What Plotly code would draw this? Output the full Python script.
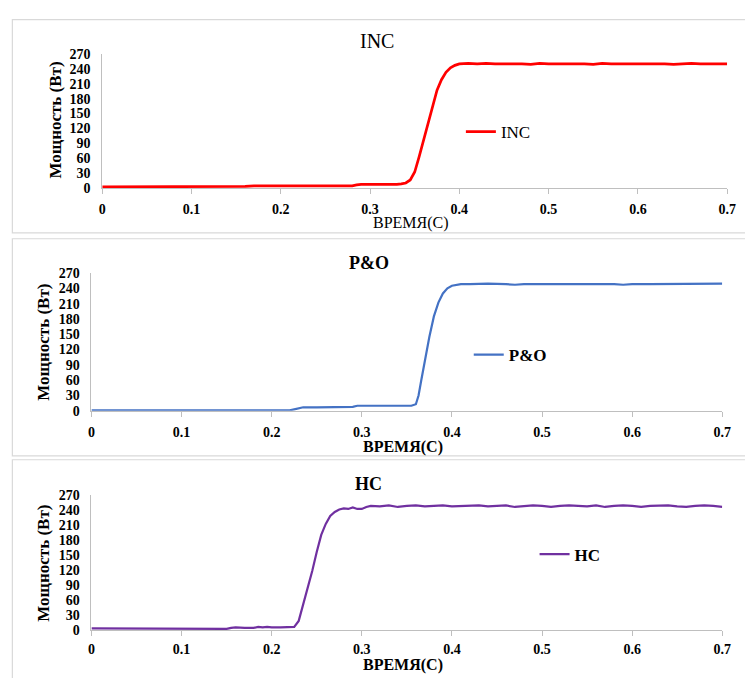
import plotly.graph_objects as go

W, H = 745, 678

# ---------------- data ----------------
x_ticks = [0, 0.1, 0.2, 0.3, 0.4, 0.5, 0.6, 0.7]
x_tick_labels = ["0", "0.1", "0.2", "0.3", "0.4", "0.5", "0.6", "0.7"]
y_ticks = [0, 30, 60, 90, 120, 150, 180, 210, 240, 270]
y_tick_labels = [str(v) for v in y_ticks]

inc_t = [0, 0.05, 0.10, 0.15, 0.16, 0.17, 0.20, 0.25, 0.28, 0.285, 0.29, 0.30, 0.31, 0.32, 0.33,
         0.335, 0.34, 0.345, 0.35, 0.355, 0.36, 0.365, 0.37, 0.375, 0.38, 0.385, 0.39, 0.395,
         0.40, 0.405, 0.41, 0.42, 0.43, 0.44, 0.45, 0.46, 0.47, 0.48, 0.49, 0.50, 0.51, 0.52,
         0.53, 0.54, 0.55, 0.56, 0.57, 0.58, 0.59, 0.60, 0.61, 0.62, 0.63, 0.64, 0.65, 0.66,
         0.67, 0.68, 0.69, 0.70]
inc_p = [2, 2, 2, 2, 3, 4, 4, 4, 4, 6, 7, 7, 7, 6, 7,
         8, 10, 16, 32, 63, 96, 128, 165, 197, 218, 233, 242, 247,
         250, 251, 251, 250, 251, 250, 250, 251, 250, 249, 251, 250, 250, 251,
         250, 250, 249, 251, 250, 250, 251, 250, 250, 251, 250, 249, 250, 251,
         250, 250, 251, 250]

po_t = [0, 0.05, 0.10, 0.15, 0.20, 0.22, 0.225, 0.23, 0.235, 0.25, 0.28, 0.29, 0.295, 0.30,
        0.33, 0.355, 0.36, 0.363, 0.366, 0.37, 0.375, 0.38, 0.385, 0.39, 0.395, 0.40, 0.405,
        0.41, 0.42, 0.44, 0.46, 0.47, 0.48, 0.50, 0.52, 0.54, 0.56, 0.58, 0.59, 0.60, 0.62,
        0.64, 0.66, 0.68, 0.70]
po_p = [1, 1, 1, 1, 1, 1, 3, 5, 7, 7, 7, 8, 10, 10,
        10, 10, 13, 30, 60, 100, 145, 185, 212, 230, 240, 245, 247,
        248, 248, 249, 248, 247, 248, 248, 249, 248, 248, 248, 247, 248, 248,
        248, 249, 249, 249]

hc_t = [0, 0.01, 0.02, 0.05, 0.10, 0.11, 0.15, 0.155, 0.16, 0.17, 0.18, 0.185, 0.19, 0.195,
        0.20, 0.21, 0.22, 0.225, 0.23, 0.235, 0.24, 0.245, 0.25, 0.255, 0.26, 0.265, 0.27,
        0.275, 0.28, 0.285, 0.29, 0.295, 0.30, 0.305, 0.31, 0.32, 0.33, 0.34, 0.35, 0.36,
        0.37, 0.38, 0.39, 0.40, 0.41, 0.42, 0.43, 0.44, 0.45, 0.46, 0.47, 0.48, 0.49, 0.50,
        0.51, 0.52, 0.53, 0.54, 0.55, 0.56, 0.57, 0.58, 0.59, 0.60, 0.61, 0.62, 0.63, 0.64,
        0.65, 0.66, 0.67, 0.68, 0.69, 0.70]
hc_p = [3, 3, 2, 2, 2, 3, 2, 4, 5, 4, 4, 6, 5, 6,
        5, 5, 5, 6, 18, 50, 82, 118, 156, 190, 212, 228, 236,
        241, 243, 242, 245, 242, 242, 246, 248, 247, 249, 246, 248, 249,
        247, 248, 249, 247, 248, 248, 249, 247, 248, 249, 246, 248, 249, 248,
        246, 248, 249, 248, 247, 249, 246, 248, 249, 248, 246, 248, 248, 249,
        247, 246, 248, 249, 248, 246]

panel_titles = ["INC", "P&O", "HC"]
y_title = "Мощность (Вт)"
x_title = "ВРЕМЯ(С)"

# ---------------- layout helpers (positions given in page pixels) ----------------
def px(xp):
    return xp / W

def py(yp):
    return 1 - yp / H

SERIF = "Liberation Serif, Times New Roman, Tinos, DejaVu Serif, serif"
AXIS_GRAY = "#bfbfbf"

panels = [
    dict(t=inc_t, p=inc_p, color="#FF0000", width=2.7,
         xl=100, xr=736, yt=48, yb=185,
         title_xy=(380, 35), title_bold=False, title_size=20,
         ytitle_xy=(52, 116), xtitle_xy=(414, 221), xtitle_bold=False,
         legend_xy=(465, 128), legend_bold=False, standoff=3,
         box=(8.5, 13, 760, 231)),
    dict(t=po_t, p=po_p, color="#4472C4", width=2.2,
         xl=89, xr=731, yt=272, yb=413,
         title_xy=(371, 262), title_bold=True, title_size=18,
         ytitle_xy=(40, 343), xtitle_xy=(406, 450), xtitle_bold=True,
         legend_xy=(473, 356), legend_bold=True, standoff=3,
         box=(8.5, 237, 760, 459)),
    dict(t=hc_t, p=hc_p, color="#7030A0", width=2.2,
         xl=89, xr=731, yt=499, yb=637,
         title_xy=(371, 488), title_bold=True, title_size=18,
         ytitle_xy=(40, 569), xtitle_xy=(406, 673), xtitle_bold=True,
         legend_xy=(540, 560), legend_bold=True, standoff=1,
         box=(8.5, 463, 760, 700)),
]

fig = go.Figure()
layout = dict(width=W, height=H, margin=dict(l=0, r=0, t=0, b=0),
              paper_bgcolor="white", plot_bgcolor="white", shapes=[], annotations=[])

for i, pn in enumerate(panels):
    n = "" if i == 0 else str(i + 1)
    leg = "legend" if i == 0 else f"legend{i + 1}"
    fig.add_trace(go.Scatter(x=pn["t"], y=pn["p"], mode="lines", name=panel_titles[i],
                             line=dict(color=pn["color"], width=pn["width"]),
                             xaxis=f"x{n}", yaxis=f"y{n}", legend=leg, showlegend=True))
    layout[f"xaxis{n}"] = dict(
        domain=[px(pn["xl"]), px(pn["xr"])], range=[0, 0.7], anchor=f"y{n}",
        tickvals=x_ticks, ticktext=x_tick_labels, showgrid=False, zeroline=False,
        showline=True, linecolor=AXIS_GRAY, linewidth=1,
        ticks="outside", ticklen=5, tickcolor=AXIS_GRAY, ticklabelstandoff=pn["standoff"],
        tickfont=dict(family=SERIF, size=14, color="black", weight="bold"))
    layout[f"yaxis{n}"] = dict(
        domain=[py(pn["yb"]), py(pn["yt"])], range=[0, 270], anchor=f"x{n}",
        tickvals=y_ticks, ticktext=y_tick_labels, showgrid=False, zeroline=False,
        showline=True, linecolor=AXIS_GRAY, linewidth=1, ticks="", ticklabelstandoff=8,
        tickfont=dict(family=SERIF, size=14, color="black", weight="bold"))
    layout[leg] = dict(x=px(pn["legend_xy"][0]), y=py(pn["legend_xy"][1]),
                       xanchor="left", yanchor="middle", bgcolor="rgba(0,0,0,0)",
                       font=dict(family=SERIF, size=17, color="black",
                                 weight="bold" if pn["legend_bold"] else "normal"))
    b = pn["box"]
    layout["shapes"].append(dict(type="rect", xref="paper", yref="paper",
                                 x0=px(b[0]), x1=px(b[2]), y0=py(b[3]), y1=py(b[1]),
                                 line=dict(color="#d9d9d9", width=1.2), layer="below"))
    layout["annotations"].append(dict(
        text=panel_titles[i], xref="paper", yref="paper",
        x=px(pn["title_xy"][0]), y=py(pn["title_xy"][1]), xanchor="center", yanchor="middle",
        showarrow=False,
        font=dict(family=SERIF, size=pn["title_size"], color="black",
                  weight="bold" if pn["title_bold"] else "normal")))
    layout["annotations"].append(dict(
        text=y_title, xref="paper", yref="paper", textangle=-90,
        x=px(pn["ytitle_xy"][0]), y=py(pn["ytitle_xy"][1]), xanchor="center", yanchor="middle",
        showarrow=False, font=dict(family=SERIF, size=17, color="black", weight="bold")))
    layout["annotations"].append(dict(
        text=x_title, xref="paper", yref="paper",
        x=px(pn["xtitle_xy"][0]), y=py(pn["xtitle_xy"][1]), xanchor="center", yanchor="middle",
        showarrow=False,
        font=dict(family=SERIF, size=16, color="black",
                  weight="bold" if pn["xtitle_bold"] else "normal")))

fig.update_layout(**layout)
fig.write_html("out.html")
